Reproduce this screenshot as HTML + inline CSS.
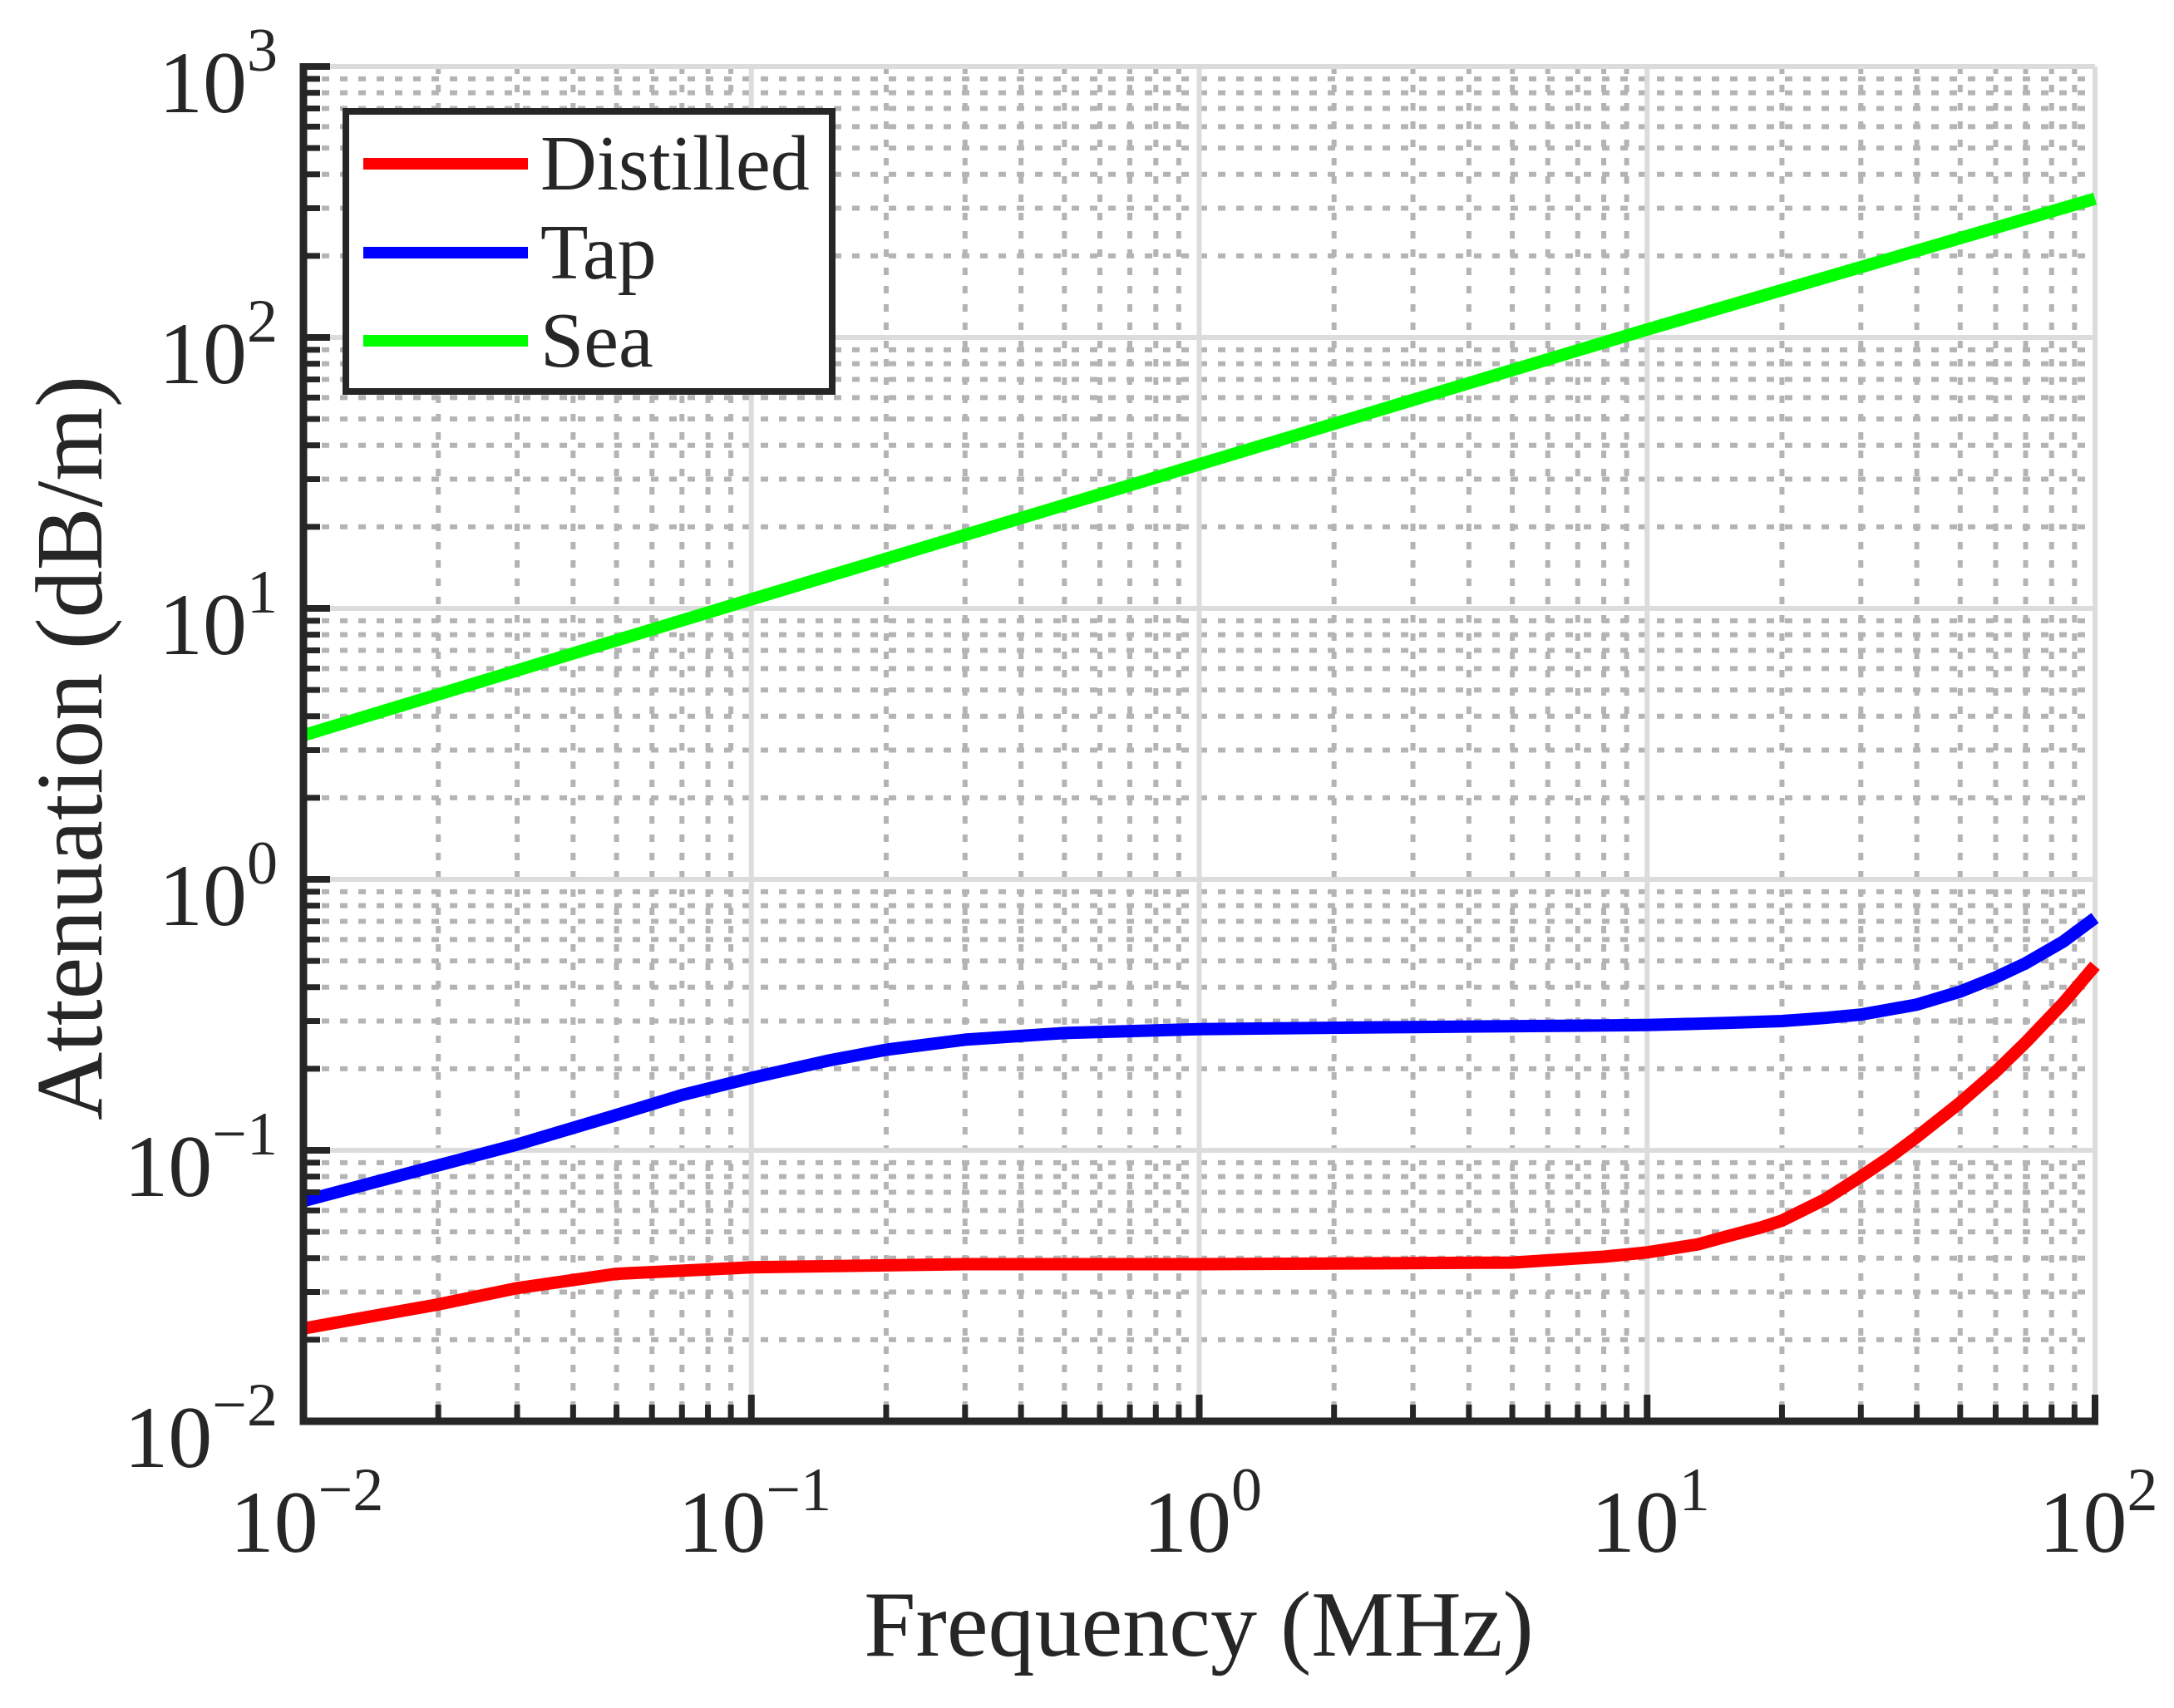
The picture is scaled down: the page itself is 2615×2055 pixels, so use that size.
<!DOCTYPE html>
<html><head><meta charset="utf-8"><style>
html,body{margin:0;padding:0;background:#fff}
svg{display:block}
text{font-family:"Liberation Serif",serif;fill:#262626}
</style></head><body>
<svg id="chart" width="2615" height="2055" viewBox="0 0 2615 2055" xmlns="http://www.w3.org/2000/svg">
<g id="grid"></g>
<g id="series"></g>
<g id="axes"></g>
<text x="1442" y="1992" font-size="112" text-anchor="middle">Frequency (MHz)</text>
<text transform="translate(122,900) rotate(-90)" font-size="114" text-anchor="middle">Attenuation (dB/m)</text>
<g>
<rect x="416" y="134" width="585" height="337" fill="#fff" stroke="#262626" stroke-width="8"/>
<line x1="437" y1="197" x2="635" y2="197" stroke="#ff0000" stroke-width="14"/>
<text x="650" y="228" font-size="94">Distilled</text>
<line x1="437" y1="304" x2="635" y2="304" stroke="#0000ff" stroke-width="14"/>
<text x="650" y="335" font-size="94">Tap</text>
<line x1="437" y1="410" x2="635" y2="410" stroke="#00ff00" stroke-width="14"/>
<text x="650" y="441" font-size="94">Sea</text>
</g>
</svg>
<script>
const freqSea = [0.01, 0.1, 1, 10, 100];
const seaValues = [3.4, 10.8, 34, 107, 325];
const freqTap = [0.01, 0.02, 0.03, 0.05, 0.07, 0.1, 0.15, 0.2, 0.3, 0.5, 1, 3, 10, 15, 20, 25, 30, 40, 50, 60, 70, 85, 100];
const tapValues = [0.065, 0.088, 0.105, 0.135, 0.16, 0.185, 0.215, 0.235, 0.256, 0.271, 0.28, 0.285, 0.29, 0.295, 0.3, 0.308, 0.317, 0.345, 0.385, 0.435, 0.49, 0.59, 0.72];
const freqDist = [0.01, 0.02, 0.03, 0.05, 0.1, 0.3, 1, 5, 8, 10, 13, 15, 18, 20, 25, 30, 35, 40, 50, 60, 70, 85, 100];
const distValues = [0.022, 0.027, 0.031, 0.035, 0.037, 0.038, 0.038, 0.0385, 0.0405, 0.042, 0.045, 0.048, 0.052, 0.055, 0.066, 0.08, 0.095, 0.112, 0.15, 0.195, 0.25, 0.35, 0.48];
const xTickExp = [-2, -1, 0, 1, 2];
const yTickExp = [-2, -1, 0, 1, 2, 3];

const L=365, R=2520, T=80, B=1710;
const NS='http://www.w3.org/2000/svg';
function X(v){return L+(Math.log10(v)+2)/4*(R-L);}
function Y(v){return B-(Math.log10(v)+2)/5*(B-T);}
function mk(tag,attrs,parent){const e=document.createElementNS(NS,tag);for(const k in attrs)e.setAttribute(k,attrs[k]);parent.appendChild(e);return e;}
const grid=document.getElementById('grid'), axes=document.getElementById('axes'), ser=document.getElementById('series');

for(let d=-2; d<2; d++){for(let m=2;m<=9;m++){const x=X(m*Math.pow(10,d));
 const g=mk('line',{x1:x,y1:T,x2:x,y2:B,stroke:'#b4b4b4','stroke-width':6,'stroke-dasharray':'9 13'},grid);
 
 
 const t=mk('line',{x1:x,y1:B,x2:x,y2:B-20,stroke:'#262626','stroke-width':7},axes);
 
 }}
for(let d=-2; d<3; d++){for(let m=2;m<=9;m++){const y=Y(m*Math.pow(10,d));
 const g=mk('line',{x1:L,y1:y,x2:R,y2:y,stroke:'#b4b4b4','stroke-width':6,'stroke-dasharray':'9 13'},grid);
 
 
 const t=mk('line',{x1:L,y1:y,x2:L+20,y2:y,stroke:'#262626','stroke-width':7},axes);
 
 }}
xTickExp.forEach(e=>{const x=X(Math.pow(10,e));
 const g=mk('line',{x1:x,y1:T,x2:x,y2:B,stroke:'#dcdcdc','stroke-width':6},grid);
 
 
 const t=mk('line',{x1:x,y1:B,x2:x,y2:B-32,stroke:'#262626','stroke-width':8},axes);
 
 
 const tx=mk('text',{x:x+4,y:1867,'font-size':106,'text-anchor':'middle'},axes);
 
 
 tx.innerHTML='10<tspan dy="-50" font-size="74">'+String(e).replace('-','\u2212')+'</tspan>';});
yTickExp.forEach(e=>{const y=Y(Math.pow(10,e));
 const g=mk('line',{x1:L,y1:y,x2:R,y2:y,stroke:'#dcdcdc','stroke-width':6},grid);
 
 
 const t=mk('line',{x1:L,y1:y,x2:L+32,y2:y,stroke:'#262626','stroke-width':8},axes);
 
 
 const tx=mk('text',{x:334,y:y+55,'font-size':106,'text-anchor':'end'},axes);
 
 
 tx.innerHTML='10<tspan dy="-50" font-size="74">'+String(e).replace('-','\u2212')+'</tspan>';});
const ax=mk('path',{d:`M${L},${T-4}V${B}H${R+4}`,fill:'none',stroke:'#262626','stroke-width':9},axes);



function series(fx,fy,color,name){
 const pts=fx.map((f,i)=>X(f).toFixed(1)+','+Y(fy[i]).toFixed(1)).join(' ');
 const p=mk('polyline',{points:pts,fill:'none',stroke:color,'stroke-width':15,'stroke-linejoin':'round'},ser);
 
 }
series(freqSea,seaValues,'#00ff00','sea-line');
series(freqTap,tapValues,'#0000ff','tap-line');
series(freqDist,distValues,'#ff0000','distilled-line');
</script>
</body></html>
